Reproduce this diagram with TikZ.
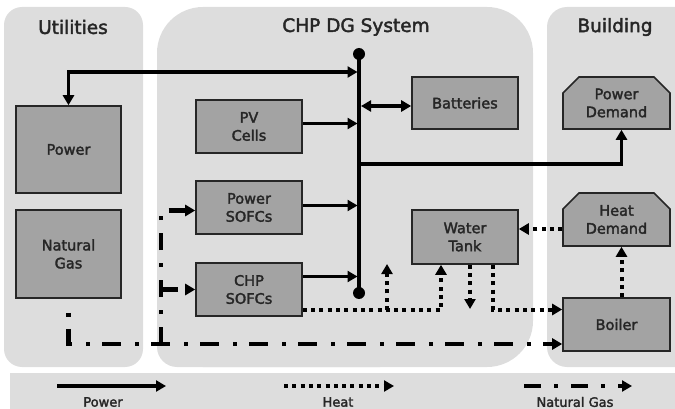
\documentclass[tikz,border=0pt]{standalone}
\usepackage{fontspec}
\setmainfont{DejaVu Sans}
\newfontfamily\dfont{DejaVu Sans}[FakeBold=2.2]
\usetikzlibrary{arrows.meta,calc,shapes.misc}
\definecolor{panel}{HTML}{DDDDDD}
\definecolor{boxfill}{HTML}{A3A3A3}
\definecolor{txt}{HTML}{262626}
\begin{document}
\begin{tikzpicture}[x=1pt,y=-1pt,
  >={Triangle[length=10pt,width=11pt]},
  boxnode/.style={draw=black!85, line width=1.6pt, fill=boxfill, text=txt, align=center,
    font=\dfont\fontsize{14.5}{18}\selectfont, inner sep=0pt},
  chamf/.style={boxnode, chamfered rectangle, chamfered rectangle xsep=8pt, chamfered rectangle ysep=8pt,
    chamfered rectangle corners={north west,north east}},
  titletext/.style={text=txt, font=\dfont\fontsize{18.5}{22}\selectfont},
  legtext/.style={text=txt, font=\dfont\fontsize{13}{15}\selectfont},
  pw/.style={line width=3.2pt},
  ht/.style={line width=4pt, dash pattern=on 4pt off 4.3pt},
  gs/.style={line width=4.8pt, dash pattern=on 17pt off 13pt on 4pt off 13pt},
  gsoff/.style={line width=4.8pt, dash pattern=on 0pt off 14pt on 4pt off 12pt on 19pt off 0pt},
  busdot/.style={circle, fill=black, inner sep=0pt, minimum size=12pt}]
\useasboundingbox (0,0) rectangle (675,409);
\clip (0,0) rectangle (675,409);
% panels
\fill[panel, rounded corners=18pt] (4,7) rectangle (143,367);
\fill[panel, rounded corners=46pt] (157,7) rectangle (533,367);
\fill[panel, rounded corners=20pt] (157,200) rectangle (400,367);
\fill[panel, rounded corners=20pt] (547,7) rectangle (700,367);
\fill[panel] (10,373) rectangle (700,409);
% titles
\node[titletext] (tu) at (73,27) {Utilities};
\node[titletext] (tc) at (356,27) {CHP DG System};
\node[titletext] (tb) at (615,27) {Building};
% boxes
\node[boxnode, minimum width=105pt, minimum height=87pt] (power) at (68.5,149.5) {Power};
\node[boxnode, minimum width=105pt, minimum height=88pt] (ngas) at (68.5,254) {Natural\\Gas};
\node[boxnode, minimum width=106pt, minimum height=53pt] (pv) at (249,126.5) {PV\\Cells};
\node[boxnode, minimum width=106pt, minimum height=53pt] (psofc) at (249,207.5) {Power\\SOFCs};
\node[boxnode, minimum width=106pt, minimum height=53pt] (csofc) at (249,289.5) {CHP\\SOFCs};
\node[boxnode, minimum width=106pt, minimum height=52pt] (batt) at (465,103) {Batteries};
\node[boxnode, minimum width=106pt, minimum height=54pt] (wt) at (465,237) {Water\\Tank};
\node[chamf, minimum width=107pt, minimum height=52pt] (pd) at (616.5,103) {Power\\Demand};
\node[chamf, minimum width=107pt, minimum height=53pt] (hd) at (616.5,219.5) {Heat\\Demand};
\node[boxnode, minimum width=107pt, minimum height=53pt] (boiler) at (616.5,324.5) {Boiler};
% bus
\node[busdot] (bt) at (359,54) {};
\node[busdot] (bb) at (359,293) {};
\draw[line width=3.8pt] (bt.center) -- (bb.center);
\coordinate (busL) at (357.5,0);
\coordinate (busR) at (361,0);
\coordinate (gridtap) at (357.5,72);
\coordinate (pdtap) at (359,164);
% power connectors
\draw[pw,<->] (gridtap) -| (power.north);
\draw[pw,->] ([yshift=3pt]pv.east) -- ([yshift=3pt]pv.east -| busL);
\draw[pw,->] ([yshift=2pt]psofc.east) -- ([yshift=2pt]psofc.east -| busL);
\draw[pw,->] ([yshift=13pt]csofc.east) -- ([yshift=13pt]csofc.east -| busL);
\draw[pw,<->] ([yshift=-3pt]batt.west -| busR) -- ([yshift=-3pt]batt.west);
\draw[pw,->] (pdtap) -| ([xshift=5pt]pd.south);
% heat connectors
\coordinate (hbr) at (387,310);
\coordinate (hup) at (387,264);
\coordinate (hdown) at (470,309);
\draw[ht,->] ([yshift=-20.5pt]csofc.east) -| ([xshift=-24pt]wt.south);
\draw[ht,->] (hbr) -- (hup);
\draw[ht,->] ([xshift=5pt]wt.south) -- (hdown);
\draw[ht,->] ([xshift=28pt]wt.south) |- ([yshift=15pt]boiler.west);
\draw[ht,->] ([yshift=-9.5pt]hd.west) -- ([yshift=-9.5pt]hd.west -| wt.east);
\draw[ht,->] ([xshift=5pt]boiler.north) -- ([xshift=5pt]hd.south);
% gas connectors
\coordinate (gb) at (161,344);
\coordinate (gc) at (161,289.5);
\draw[gsoff,->] (ngas.south) |- ([yshift=-19.5pt]boiler.west);
\draw[gs,->] (gb) |- ([yshift=-3pt]psofc.west);
\draw[gs,->] (gc) -- (csofc.west);
% legend
\coordinate (lp1) at (57,386); \coordinate (lp2) at (166,386);
\coordinate (lh1) at (284,386); \coordinate (lh2) at (394,386);
\coordinate (lg1) at (524,386); \coordinate (lg2) at (632,386);
\draw[pw,->] (lp1) -- (lp2);
\draw[ht,->] (lh1) -- (lh2);
\draw[gs,->] (lg1) -- (lg2);
\node[legtext] (lpt) at (103,402) {Power};
\node[legtext] (lht) at (338,402) {Heat};
\node[legtext] (lgt) at (575,402) {Natural Gas};
\end{tikzpicture}
\end{document}
